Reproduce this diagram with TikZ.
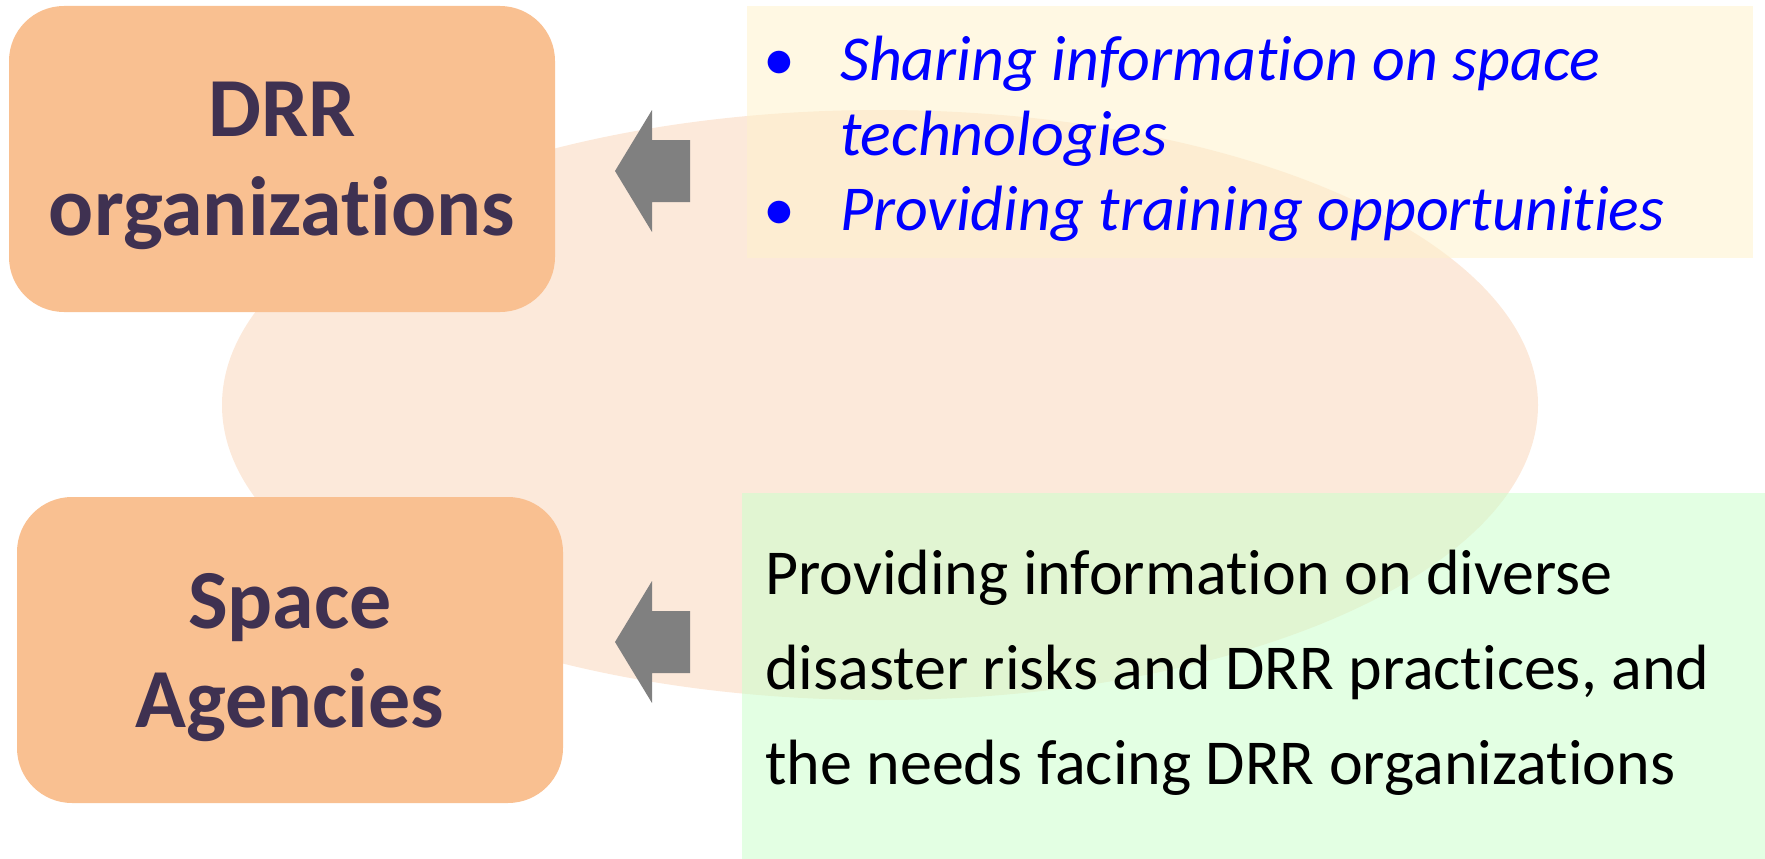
\documentclass[tikz,border=0pt]{standalone}
\usepackage{fontspec}
\setmainfont{Carlito}[Ligatures={NoCommon}]
\definecolor{boxorange}{HTML}{F9C091}
\definecolor{boxtext}{HTML}{3F3151}
\definecolor{ovalpeach}{HTML}{FCE9DA}
\definecolor{creampanel}{HTML}{FFF2CC}
\definecolor{greenpanel}{HTML}{CCFFCC}
\definecolor{arrowgray}{HTML}{808080}
\begin{document}
\begin{tikzpicture}[x=1pt, y=-1pt,
    actor/.style={fill=boxorange, rounded corners=55pt, minimum width=546pt,
      minimum height=306pt, align=center, text=boxtext, text depth=0pt,
      font=\fontsize{84}{99}\selectfont\bfseries},
    panel/.style={fill opacity=0.55, inner sep=0pt}]
  \useasboundingbox (0,0) rectangle (1765,859);

  % the big oval behind everything
  \fill[ovalpeach] (880,405) ellipse [x radius=658pt, y radius=295pt];

  \node[actor] (drr) at (282,159) {DRR\\organizations};
  \node[actor] (agency) at (290,650) {Space\\Agencies};

  \node[panel, fill=creampanel, minimum width=1006pt, minimum height=252pt] (sharepanel) at (1250,132) {};
  \node[panel, fill=greenpanel, minimum width=1023pt, minimum height=366pt] (needspanel) at (1253.5,676) {};

  \node[anchor=base west, inner sep=0pt, text=blue, font=\fontsize{64}{75}\selectfont\itshape] (sharetext) at (763,81)
    {\begin{tabular}[t]{@{}l@{\hspace{45pt}}l@{}}
      \upshape\textbullet & Sharing information on space\\
       & technologies\\
      \upshape\textbullet & Providing training opportunities
    \end{tabular}};
  \node[anchor=base west, inner sep=0pt, font=\fontsize{64}{95}\selectfont] (needstext) at (765,594)
    {\begin{tabular}[t]{@{}l@{}}
      Providing information on diverse\\
      disaster risks and DRR practices, and\\
      the needs facing DRR organizations
    \end{tabular}};

  % block arrows
  \foreach \y in {171,642}
    \fill[arrowgray] (690,\y-31) -- (652,\y-31) -- (652,\y-61) -- (615,\y) -- (652,\y+61) -- (652,\y+31) -- (690,\y+31) -- cycle;
\end{tikzpicture}
\end{document}
